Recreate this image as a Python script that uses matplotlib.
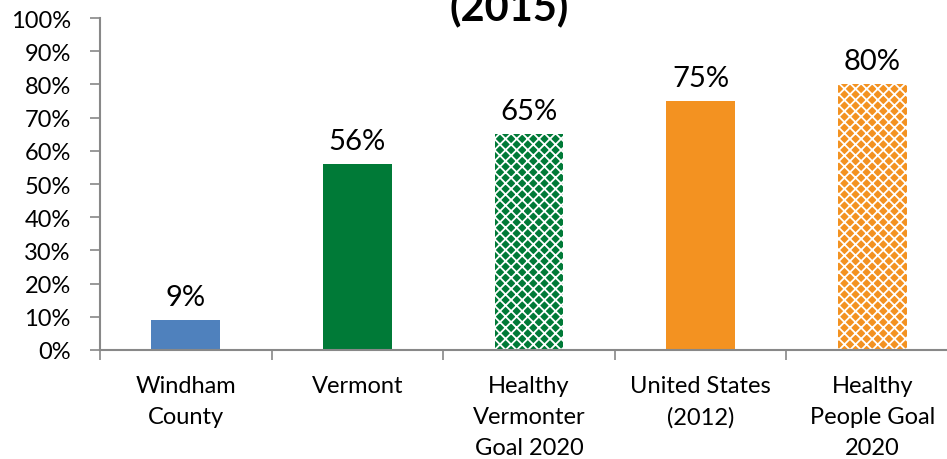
import matplotlib
matplotlib.use("Agg")
import matplotlib.pyplot as plt
import numpy as np

categories = ["Windham\nCounty", "Vermont", "Healthy\nVermonter\nGoal 2020",
              "United States\n(2012)", "Healthy\nPeople Goal\n2020"]
values = [9, 56, 65, 75, 80]
labels = ["9%", "56%", "65%", "75%", "80%"]
colors = ["#4F81BD", "#007A37", "#007A37", "#F39221", "#F39221"]
hatched = [False, False, True, False, True]
yticks = list(range(0, 101, 10))

plt.rcParams['font.family'] = ['Lato', 'DejaVu Sans']
plt.rcParams['hatch.linewidth'] = 1.3

W, H = 947, 460
fig = plt.figure(figsize=(W/100, H/100), dpi=100)
ax = fig.add_axes([100/W, (460-351)/H, 858/W, 332/H])

x = np.arange(len(categories))
for i in range(len(categories)):
    if hatched[i]:
        ax.bar(x[i], values[i], width=0.40, color=colors[i], edgecolor="white",
               hatch="xxx", linewidth=0)
    else:
        ax.bar(x[i], values[i], width=0.40, color=colors[i], linewidth=0)
    ax.text(x[i], values[i] + 3.0, labels[i], ha="center", va="bottom",
            fontsize=21, color="black")

ax.set_xlim(-0.5, len(categories) - 0.5)
ax.set_ylim(0, 100)
ax.set_yticks(yticks)
ax.set_yticklabels([f"{t}%" for t in yticks], fontsize=17)
ax.set_xticks(x)
ax.set_xticklabels(categories, fontsize=17, linespacing=1.6, va="top")
ax.set_xticks(np.arange(-0.5, len(categories), 1), minor=True)
ax.tick_params(axis="x", which="major", length=0, pad=18)
ax.tick_params(axis="x", which="minor", length=7, color="#888888", width=1.2)
ax.tick_params(axis="y", length=7, color="#888888", width=1.2, pad=14)

for s in ["top", "right"]:
    ax.spines[s].set_visible(False)
for s in ["left", "bottom"]:
    ax.spines[s].set_color("#888888")
    ax.spines[s].set_linewidth(1.5)

fig.text(509/W, 1 - 20/H, "(2015)", ha="center", va="baseline",
         fontsize=30, fontweight="bold")

fig.savefig("out.png", dpi=100)
